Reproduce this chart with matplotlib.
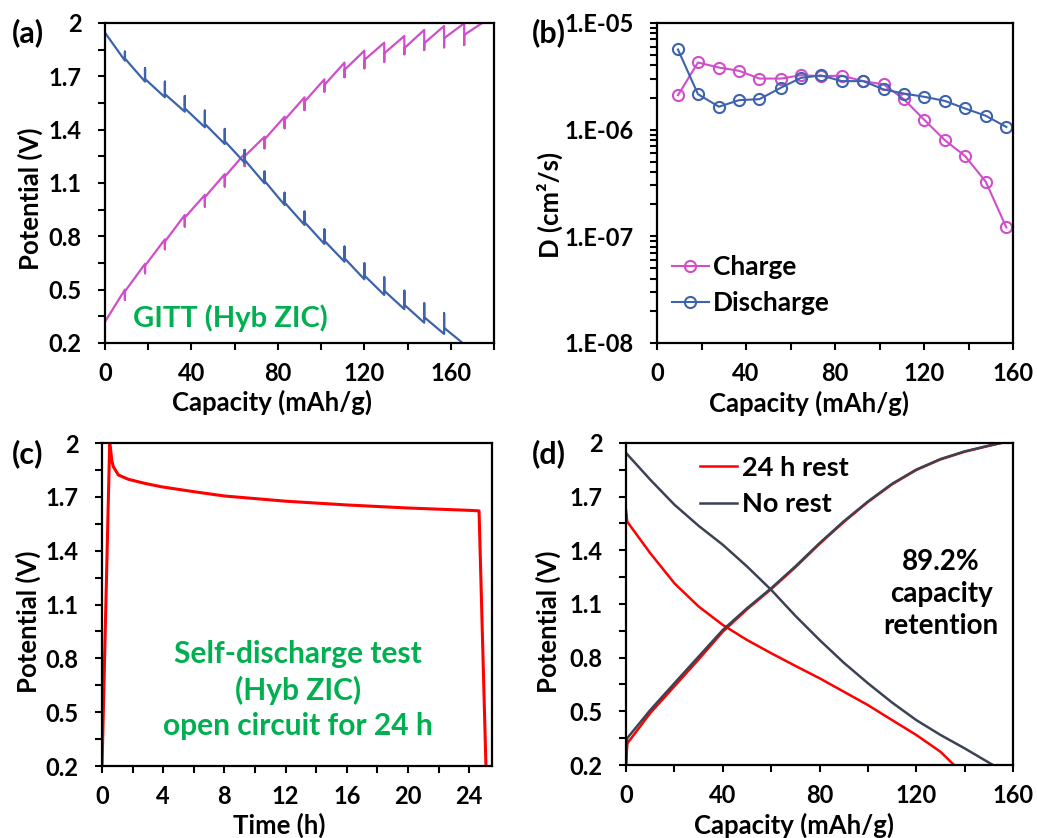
"""GITT, diffusion coefficient and self-discharge plots for the hybrid ZIC."""

import math

import matplotlib

matplotlib.use("Agg")

import matplotlib.pyplot as plt
from matplotlib.ticker import FixedLocator, FuncFormatter, LogLocator, NullFormatter

plt.rcParams["font.family"] = ["Lato", "DejaVu Sans"]
plt.rcParams["font.weight"] = "bold"
plt.rcParams["axes.labelweight"] = "bold"

PINK = "#D04ECB"
BLUE = "#3C63AC"
GREEN = "#00B050"
RED = "#FF0000"
SLATE = "#3B4252"

# (a) GITT: capacity at the end of each current pulse, and the potential at
# pulse end, after relaxation and at the start of the next pulse
step_cap = [9.2, 18.5, 27.7, 36.9, 46.2, 55.4, 64.6, 73.8, 83.1, 92.3,
            101.5, 110.8, 120.0, 129.2, 138.5, 147.7, 156.9, 166.2]
chg_start = 0.32
chg_end = [0.50, 0.645, 0.783, 0.92, 1.033, 1.15, 1.265, 1.36, 1.473, 1.582,
           1.683, 1.777, 1.844, 1.889, 1.927, 1.961, 1.983, 1.998]
chg_relax = [0.442, 0.592, 0.727, 0.855, 0.967, 1.08, 1.195, 1.295, 1.408, 1.51,
             1.614, 1.695, 1.745, 1.782, 1.824, 1.848, 1.863, 1.876]
chg_next = [0.49, 0.635, 0.77, 0.905, 1.02, 1.135, 1.25, 1.345, 1.455, 1.557,
            1.651, 1.736, 1.792, 1.829, 1.858, 1.886, 1.914, 1.933]
chg_final = (174.6, 2.0)

dis_start = 1.945
dis_end = [1.788, 1.67, 1.582, 1.501, 1.413, 1.319, 1.214, 1.098, 0.976, 0.864,
           0.757, 0.657, 0.558, 0.47, 0.39, 0.314, 0.251]
dis_relax = [1.839, 1.745, 1.67, 1.589, 1.507, 1.404, 1.286, 1.164, 1.045, 0.939,
             0.839, 0.742, 0.648, 0.569, 0.494, 0.423, 0.367]
dis_next = [1.80, 1.685, 1.60, 1.52, 1.432, 1.335, 1.23, 1.112, 0.99, 0.88,
            0.775, 0.677, 0.58, 0.494, 0.415, 0.345, 0.285]
dis_final = (165.5, 0.2)

# (b) diffusion coefficients from GITT
d_cap = [9.4, 18.4, 27.8, 36.9, 46.0, 55.8, 64.7, 73.7, 83.1, 92.7,
         101.9, 110.9, 120.2, 129.3, 138.4, 147.7, 157.0]
d_charge = [2.1e-6, 4.26e-6, 3.82e-6, 3.56e-6, 3.01e-6, 3.01e-6, 3.24e-6, 3.17e-6,
            3.2e-6, 2.85e-6, 2.65e-6, 1.93e-6, 1.23e-6, 7.98e-7, 5.66e-7,
            3.26e-7, 1.21e-7]
d_discharge = [5.64e-6, 2.15e-6, 1.64e-6, 1.89e-6, 1.93e-6, 2.48e-6, 3.06e-6, 3.22e-6,
               2.85e-6, 2.85e-6, 2.38e-6, 2.18e-6, 2.03e-6, 1.86e-6, 1.58e-6,
               1.35e-6, 1.06e-6]

# (c) open-circuit self-discharge
sd_time = [0, 0.5, 0.58, 0.64, 0.74, 1.07, 1.72, 2.81, 3.9, 6.08, 8, 12, 16, 20,
           24, 24.65, 25.1]
sd_volt = [0.2, 2.0, 1.95, 1.9, 1.868, 1.822, 1.798, 1.775, 1.756, 1.728, 1.705,
           1.676, 1.655, 1.638, 1.625, 1.622, 0.2]

# (d) charge/discharge with and without a 24 h rest
chg_cap = [0, 0.5, 10, 20, 30, 40, 50, 60, 70, 80, 90, 100, 110, 120, 130, 140,
           150, 155]
chg_norest = [0.2, 0.35, 0.507, 0.657, 0.806, 0.955, 1.076, 1.188, 1.31, 1.44,
              1.562, 1.673, 1.772, 1.851, 1.91, 1.953, 1.985, 2.0]
chg_rest = [0.2, 0.32, 0.49, 0.64, 0.79, 0.945, 1.07, 1.183, 1.305, 1.436,
            1.558, 1.67, 1.769, 1.849, 1.908, 1.951, 1.984, 2.0]
dis_cap_norest = [0, 10, 20, 30, 40, 50, 60, 70, 80, 90, 100, 110, 120, 130, 140,
                  151.7]
dis_norest = [1.944, 1.795, 1.655, 1.537, 1.431, 1.31, 1.179, 1.034, 0.899, 0.772,
              0.657, 0.549, 0.451, 0.368, 0.293, 0.2]
dis_cap_rest = [0, 0.5, 10, 20, 30, 40, 50, 60, 70, 80, 90, 100, 110, 120, 130,
                135.6]
dis_rest = [1.625, 1.56, 1.384, 1.216, 1.086, 0.983, 0.899, 0.825, 0.754, 0.685,
            0.61, 0.535, 0.451, 0.368, 0.274, 0.2]

volt_ticks = [0.2, 0.5, 0.8, 1.1, 1.4, 1.7, 2.0]
volt_minor = [0.35, 0.65, 0.95, 1.25, 1.55, 1.85]

TICK_FS = 17
LABEL_FS = 18.5


def gitt_trace(start, ends, relaxed, nexts, final):
    """Join pulse/relaxation points into one polyline (capacity, potential)."""
    xs, ys = [0.0], [start]
    for cap, e, r, n in zip(step_cap, ends, relaxed, nexts):
        xs += [cap, cap, cap]
        ys += [e, r, n]
    xs.append(final[0])
    ys.append(final[1])
    return xs, ys


def style_axes(ax):
    for spine in ax.spines.values():
        spine.set_linewidth(1.6)
    ax.tick_params(which="both", direction="out", width=1.5, length=5,
                   labelsize=TICK_FS, top=False, right=False)
    ax.tick_params(axis="x", which="major", pad=9)
    ax.tick_params(axis="y", which="major", pad=12)
    for lab in ax.get_xticklabels() + ax.get_yticklabels():
        lab.set_fontweight("bold")


def volt_axis(ax):
    ax.set_ylim(0.2, 2.0)
    ax.yaxis.set_major_locator(FixedLocator(volt_ticks))
    ax.yaxis.set_minor_locator(FixedLocator(volt_minor))
    ax.yaxis.set_major_formatter(FuncFormatter(lambda v, _: f"{round(v, 2):g}"))
    ax.set_ylabel("Potential (V)", fontsize=LABEL_FS)


def decade_label(v, _):
    return "1.E-%02d" % round(-math.log10(v))


fig = plt.figure(figsize=(10.37, 8.38), dpi=100)
ax_a = fig.add_axes([0.1013, 0.5907, 0.3751, 0.3819])
ax_b = fig.add_axes([0.6336, 0.5907, 0.3433, 0.3819])
ax_c = fig.add_axes([0.0984, 0.0859, 0.3761, 0.3854])
ax_d = fig.add_axes([0.6037, 0.0871, 0.3732, 0.3843])

# (a)
x, y = gitt_trace(chg_start, chg_end, chg_relax, chg_next, chg_final)
ax_a.plot(x, y, color=PINK, lw=1.6)
x, y = gitt_trace(dis_start, dis_end, dis_relax, dis_next, dis_final)
ax_a.plot(x, y, color=BLUE, lw=1.6)
ax_a.set_xlim(0, 180)
ax_a.xaxis.set_major_locator(FixedLocator([0, 40, 80, 120, 160]))
ax_a.xaxis.set_minor_locator(FixedLocator([20, 60, 100, 140, 180]))
volt_axis(ax_a)
ax_a.set_xlabel("Capacity (mAh/g)", fontsize=LABEL_FS)
ax_a.text(0.321, 0.078, "GITT (Hyb ZIC)", transform=ax_a.transAxes, color=GREEN,
          fontsize=21, fontweight="bold", ha="center", va="center")
ax_a.xaxis.set_label_coords(0.43, -0.145)
ax_a.yaxis.set_label_coords(-0.16, 0.45)

# (b)
ax_b.plot(d_cap, d_charge, color=PINK, lw=1.5, marker="o", ms=8, mfc="none",
          mew=1.5, label="Charge")
ax_b.plot(d_cap, d_discharge, color=BLUE, lw=1.5, marker="o", ms=8, mfc="none",
          mew=1.5, label="Discharge")
ax_b.set_yscale("log")
ax_b.set_ylim(1e-8, 1e-5)
ax_b.set_xlim(0, 160)
ax_b.xaxis.set_major_locator(FixedLocator([0, 40, 80, 120, 160]))
ax_b.xaxis.set_minor_locator(FixedLocator([20, 60, 100, 140]))
ax_b.yaxis.set_major_locator(LogLocator(base=10, numticks=10))
ax_b.yaxis.set_minor_locator(LogLocator(base=10, subs=range(2, 10), numticks=10))
ax_b.yaxis.set_minor_formatter(NullFormatter())
ax_b.yaxis.set_major_formatter(FuncFormatter(decade_label))
ax_b.set_xlabel("Capacity (mAh/g)", fontsize=LABEL_FS)
ax_b.set_ylabel("D (cm²/s)", fontsize=LABEL_FS)
ax_b.xaxis.set_label_coords(0.427, -0.148)
ax_b.yaxis.set_label_coords(-0.264, 0.43)
ax_b.legend(loc="upper left", bbox_to_anchor=(0.042, 0.275), frameon=False,
            fontsize=19, handlelength=1.4, handletextpad=0.15, labelspacing=0.45,
            borderpad=0, borderaxespad=0)

# (c)
ax_c.plot(sd_time, sd_volt, color=RED, lw=2.2)
ax_c.set_xlim(0, 25.5)
ax_c.xaxis.set_major_locator(FixedLocator([0, 4, 8, 12, 16, 20, 24]))
ax_c.xaxis.set_minor_locator(FixedLocator([2, 6, 10, 14, 18, 22]))
volt_axis(ax_c)
ax_c.set_xlabel("Time (h)", fontsize=LABEL_FS)
ax_c.xaxis.set_label_coords(0.455, -0.143)
ax_c.yaxis.set_label_coords(-0.156, 0.446)
ax_c.text(0.503, 0.235, "Self-discharge test\n(Hyb ZIC)\nopen circuit for 24 h",
          transform=ax_c.transAxes, color=GREEN, fontsize=21.5, fontweight="bold",
          ha="center", va="center", linespacing=1.3)

# (d)
ax_d.plot(chg_cap, chg_rest, color=RED, lw=1.8, label="24 h rest")
ax_d.plot(dis_cap_rest, dis_rest, color=RED, lw=1.8)
ax_d.plot(chg_cap, chg_norest, color=SLATE, lw=1.8, label="No rest")
ax_d.plot(dis_cap_norest, dis_norest, color=SLATE, lw=1.8)
ax_d.set_xlim(0, 160)
ax_d.xaxis.set_major_locator(FixedLocator([0, 40, 80, 120, 160]))
ax_d.xaxis.set_minor_locator(FixedLocator([20, 60, 100, 140]))
volt_axis(ax_d)
ax_d.set_xlabel("Capacity (mAh/g)", fontsize=LABEL_FS)
ax_d.xaxis.set_label_coords(0.434, -0.147)
ax_d.yaxis.set_label_coords(-0.168, 0.446)
ax_d.legend(loc="upper left", bbox_to_anchor=(0.19, 0.96), frameon=False,
            fontsize=19.5, handlelength=1.4, handletextpad=0.15, labelspacing=0.45,
            borderpad=0, borderaxespad=0)
ax_d.text(0.814, 0.531, "89.2%\ncapacity\nretention", transform=ax_d.transAxes,
          fontsize=20, fontweight="bold", ha="center", va="center",
          linespacing=1.3)

for ax in (ax_a, ax_b, ax_c, ax_d):
    style_axes(ax)

for label, (fx, fy) in zip(["(a)", "(b)", "(c)", "(d)"],
                           [(0.011, 0.961), (0.513, 0.961),
                            (0.011, 0.459), (0.513, 0.459)]):
    fig.text(fx, fy, label, fontsize=22, fontweight="bold", ha="left", va="center")

fig.savefig("out.png", dpi=100)
plt.close(fig)
